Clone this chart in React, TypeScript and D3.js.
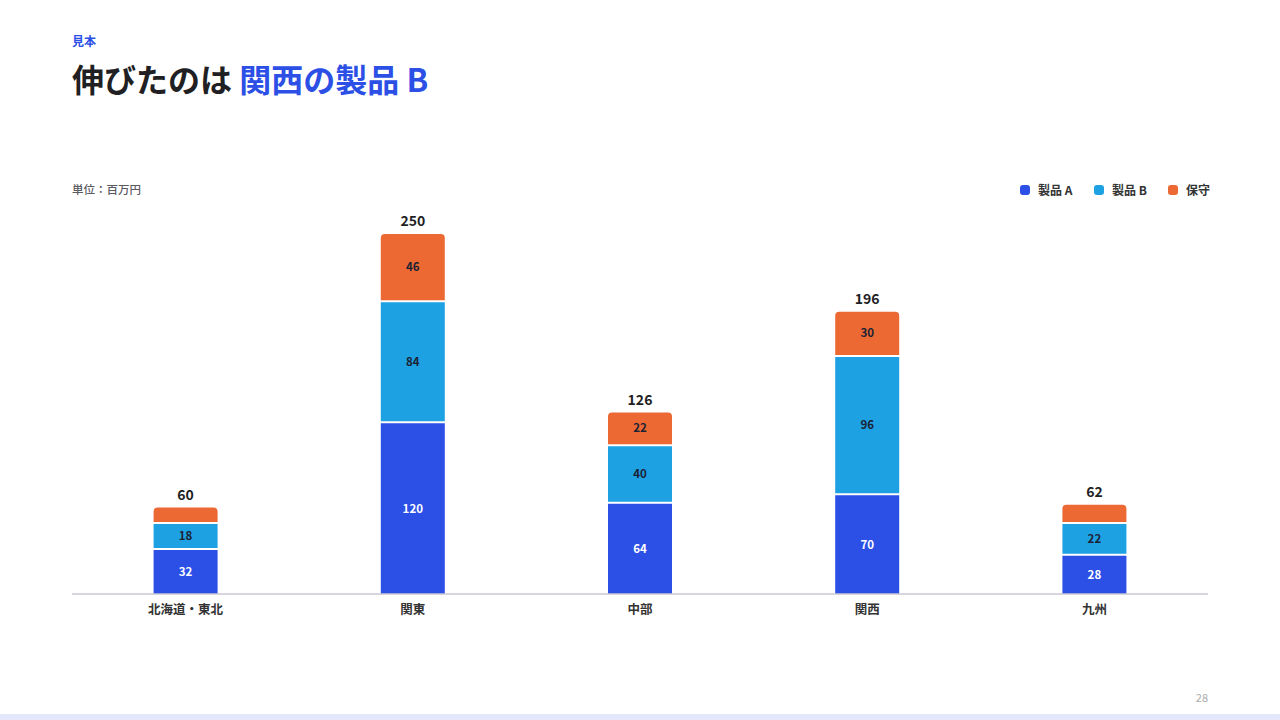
import * as d3 from "d3";

const regions = ["北海道・東北", "関東", "中部", "関西", "九州"];
const seriesNames = ["製品 A", "製品 B", "保守"];
const productA = [32, 120, 64, 70, 28];
const productB = [18, 84, 40, 96, 22];
const maintenance = [10, 46, 22, 30, 12];
const colors = ["#2c4fe6", "#1ea1e3", "#ec6934"];
const labelColors = ["#ffffff", "#1b2233", "#1b2233"];

const W = 1280;
const H = 720;
const FONT = "'Noto Sans CJK JP', 'Noto Sans', sans-serif";

export default function App() {
  const left = 72;
  const right = 1208;
  const baseY = 594;

  const x = d3.scaleBand<string>().domain(regions).range([left, right]).paddingInner(0).paddingOuter(0);
  const y = d3.scaleLinear().domain([0, 250]).range([baseY, 234]);

  const rows = regions.map((r, i) => ({
    region: r,
    a: productA[i],
    b: productB[i],
    m: maintenance[i],
  }));
  const stack = d3.stack<(typeof rows)[number]>().keys(["a", "b", "m"])(rows);

  const barW = 64;
  const gap = 2;
  const rad = 4;

  return (
    <svg
      width={W}
      height={H}
      viewBox={`0 0 ${W} ${H}`}
      style={{ position: "absolute", left: 0, top: 0, background: "#fff", fontFamily: FONT }}
    >
      <rect x={0} y={0} width={W} height={H} fill="#fff" />
      <text x={72} y={46} fontSize={12} fontWeight={700} fill="#2c4fe6">
        見本
      </text>
      <text x={72} y={92} fontSize={32} fontWeight={700} fill="#1f1f24">
        伸びたのは <tspan fill="#2c4fe6">関西の製品 B</tspan>
      </text>

      <text x={72} y={194} fontSize={11.5} fontWeight={500} fill="#5a5a5f">
        単位：百万円
      </text>

      {/* legend, right aligned */}
      {seriesNames.map((s, i) => {
        const xs = [1020, 1094, 1168][i];
        return (
          <g key={s}>
            <rect x={xs} y={185} width={10} height={10} rx={3} fill={colors[i]} />
            <text x={xs + 18} y={194.5} fontSize={12} fontWeight={700} fill="#333">
              {s}
            </text>
          </g>
        );
      })}

      {stack.map((layer, li) =>
        layer.map((d, ci) => {
          const cx = (x(regions[ci]) ?? 0) + x.bandwidth() / 2;
          const x0 = cx - barW / 2;
          const isTop = li === stack.length - 1;
          const yTop = y(d[1]) + (isTop ? 0 : gap);
          const yBot = y(d[0]);
          const h = yBot - yTop;
          const val = d[1] - d[0];
          let path: string;
          if (isTop) {
            path = `M${x0},${yBot} V${yTop + rad} Q${x0},${yTop} ${x0 + rad},${yTop} H${x0 + barW - rad} Q${x0 + barW},${yTop} ${x0 + barW},${yTop + rad} V${yBot} Z`;
          } else {
            path = `M${x0},${yBot} V${yTop} H${x0 + barW} V${yBot} Z`;
          }
          return (
            <g key={`${li}-${ci}`}>
              <path d={path} fill={colors[li]} />
              {h > 20 && (
                <text
                  x={cx}
                  y={(yTop + yBot) / 2 + 4}
                  textAnchor="middle"
                  fontSize={11.5}
                  fontWeight={700}
                  fill={labelColors[li]}
                >
                  {val}
                </text>
              )}
            </g>
          );
        })
      )}

      {rows.map((r) => {
        const cx = (x(r.region) ?? 0) + x.bandwidth() / 2;
        const total = r.a + r.b + r.m;
        return (
          <g key={r.region}>
            <text x={cx} y={y(total) - 8} textAnchor="middle" fontSize={14} fontWeight={700} fill="#1f1f24">
              {total}
            </text>
            <text x={cx} y={614} textAnchor="middle" fontSize={12.5} fontWeight={700} fill="#333">
              {r.region}
            </text>
          </g>
        );
      })}

      <line x1={left} x2={right} y1={baseY} y2={baseY} stroke="#c8c9d0" strokeWidth={1.5} />

      <text x={1208} y={702} textAnchor="end" fontSize={11} fill="#aaa">
        28
      </text>
      <rect x={0} y={714} width={W} height={6} fill="#e3e8fb" />
    </svg>
  );
}
